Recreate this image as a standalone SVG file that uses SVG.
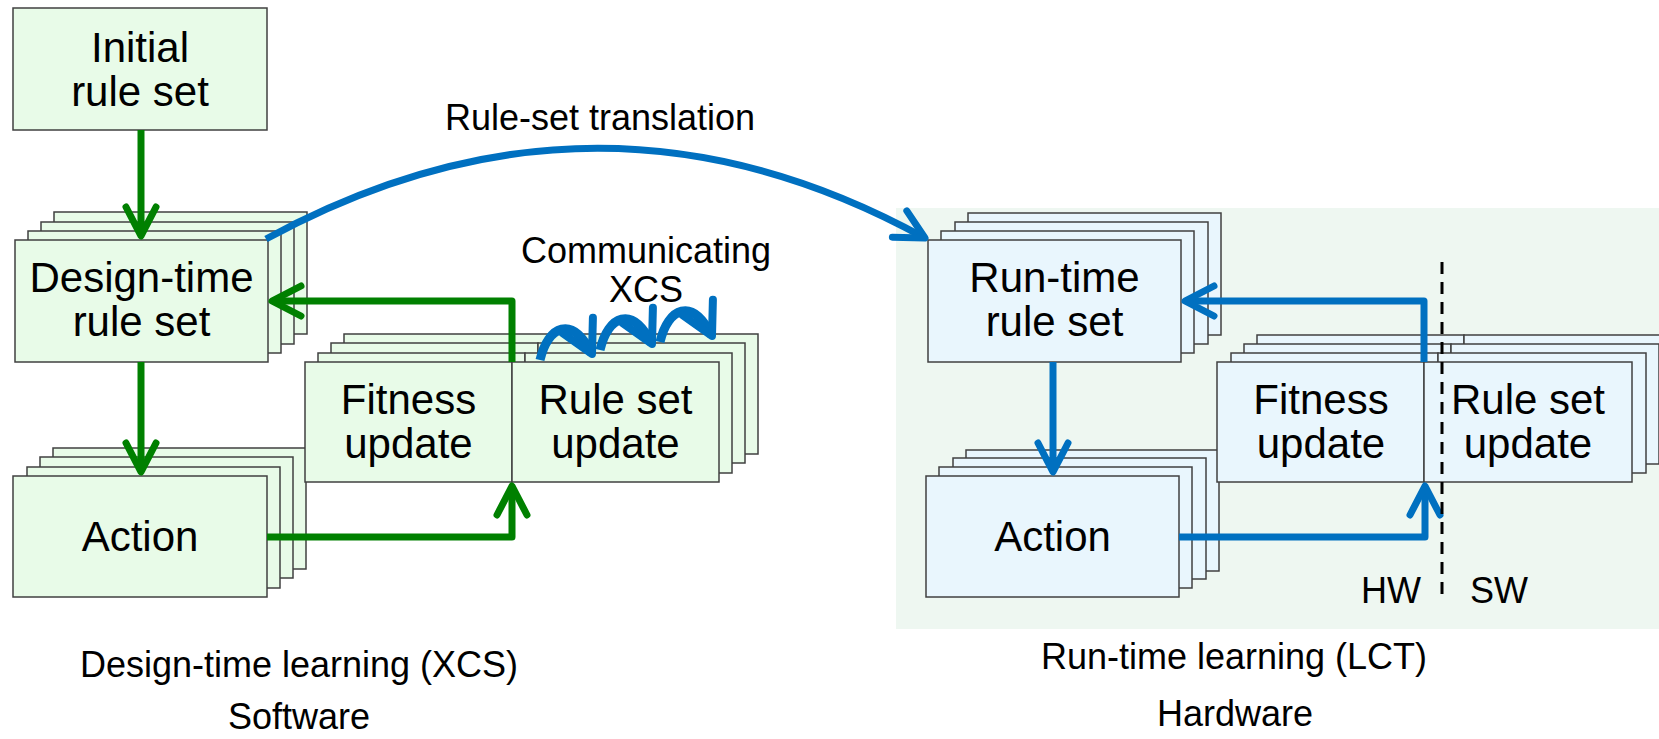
<svg xmlns="http://www.w3.org/2000/svg" width="1659" height="739" viewBox="0 0 1659 739">
<style>
.g rect{fill:#e8fbe8;stroke:#404040;stroke-width:1.5}
.b rect{fill:#e9f6fd;stroke:#404040;stroke-width:1.5}
text{font-family:"Liberation Sans",Arial,sans-serif;fill:#000;text-anchor:middle}
.t{font-size:42px}
.m{font-size:36px}
.cg{fill:none;stroke:#008000;stroke-width:7;stroke-linejoin:round;marker-end:url(#ag)}
.cb{fill:none;stroke:#0070c0;stroke-width:7;stroke-linejoin:round;marker-end:url(#ab)}
.hb{fill:none;stroke:#0070c0;stroke-width:9;marker-end:url(#ah)}
</style>
<defs>
<marker id="ag" markerUnits="userSpaceOnUse" viewBox="-40 -25 50 50" refX="0" refY="0" markerWidth="50" markerHeight="50" orient="auto" overflow="visible">
<path d="M-29,-15 L0,0 L-29,15" fill="none" stroke="#008000" stroke-width="7" stroke-linecap="round" stroke-linejoin="round"/>
</marker>
<marker id="ab" markerUnits="userSpaceOnUse" viewBox="-40 -25 50 50" refX="0" refY="0" markerWidth="50" markerHeight="50" orient="auto" overflow="visible">
<path d="M-29,-15 L0,0 L-29,15" fill="none" stroke="#0070c0" stroke-width="7" stroke-linecap="round" stroke-linejoin="round"/>
</marker>
<marker id="ah" markerUnits="userSpaceOnUse" viewBox="-40 -25 50 50" refX="0" refY="0" markerWidth="50" markerHeight="50" orient="auto" overflow="visible">
<path d="M-32,-17 L0,0 L-32,17" fill="none" stroke="#0070c0" stroke-width="8" stroke-linecap="round" stroke-linejoin="round"/>
</marker>
</defs>
<rect id="hw-region" x="896" y="208" width="763" height="421" fill="#eef7f1"/>

<g id="initial" class="g">
<rect x="13" y="8" width="254" height="122"/>
<text class="t" x="140" y="62">Initial</text>
<text class="t" x="140" y="106">rule set</text>
</g>

<g id="design-time" class="g">
<rect x="54" y="212" width="253" height="122"/>
<rect x="41" y="222" width="253" height="122"/>
<rect x="28" y="231" width="253" height="122"/>
<rect x="15" y="240" width="253" height="122"/>
<text class="t" x="141.5" y="292">Design-time</text>
<text class="t" x="141.5" y="336">rule set</text>
</g>

<g id="action-sw" class="g">
<rect x="53" y="448" width="253" height="121"/>
<rect x="40" y="457" width="253" height="121"/>
<rect x="27" y="467" width="253" height="121"/>
<rect x="13" y="476" width="254" height="121"/>
<text class="t" x="140" y="551">Action</text>
</g>

<g id="update-sw" class="g">
<rect x="344" y="334" width="207" height="120"/><rect x="551" y="334" width="207" height="120"/>
<rect x="331" y="343" width="207" height="120"/><rect x="538" y="343" width="207" height="120"/>
<rect x="318" y="353" width="207" height="120"/><rect x="525" y="353" width="207" height="120"/>
<rect x="305" y="362" width="207" height="120"/><rect x="512" y="362" width="207" height="120"/>
<text class="t" x="408.5" y="414">Fitness</text>
<text class="t" x="408.5" y="458">update</text>
<text class="t" x="615.5" y="414">Rule set</text>
<text class="t" x="615.5" y="458">update</text>
</g>

<g id="run-time" class="b">
<rect x="968" y="213" width="253" height="122"/>
<rect x="955" y="222" width="253" height="122"/>
<rect x="941" y="231" width="253" height="122"/>
<rect x="928" y="240" width="253" height="122"/>
<text class="t" x="1054.5" y="292">Run-time</text>
<text class="t" x="1054.5" y="336">rule set</text>
</g>

<g id="action-hw" class="b">
<rect x="966" y="450" width="253" height="121"/>
<rect x="953" y="458" width="253" height="121"/>
<rect x="939" y="467" width="253" height="121"/>
<rect x="926" y="476" width="253" height="121"/>
<text class="t" x="1052.5" y="551">Action</text>
</g>

<g id="update-hw" class="b">
<rect x="1257" y="335" width="207" height="120"/><rect x="1464" y="335" width="208" height="120"/>
<rect x="1244" y="344" width="207" height="120"/><rect x="1451" y="344" width="208" height="120"/>
<rect x="1231" y="353" width="207" height="120"/><rect x="1438" y="353" width="208" height="120"/>
<rect x="1217" y="362" width="207" height="120"/><rect x="1424" y="362" width="208" height="120"/>
<text class="t" x="1321" y="414">Fitness</text>
<text class="t" x="1321" y="458">update</text>
<text class="t" x="1528" y="414">Rule set</text>
<text class="t" x="1528" y="458">update</text>
</g>

<g id="connectors">
<path class="cg" d="M141,130 V236"/>
<path class="cg" d="M141,362 V472"/>
<path class="cg" d="M267,537 H512 V486"/>
<path class="cg" d="M512,362 V301 H272"/>
<path class="cb" d="M266,239 Q598,58 925,238"/>
<path class="cb" d="M1053,362 V472"/>
<path class="cb" d="M1179,537 H1425 V486"/>
<path class="cb" d="M1424,362 V301 H1185"/>
<path class="hb" d="M540,360 C548,326 572,314 592,354"/>
<path class="hb" d="M600,350 C608,316 632,304 652,344"/>
<path class="hb" d="M660,342 C668,308 692,296 712,336"/>
<path d="M1442,262 V602" fill="none" stroke="#000" stroke-width="3" stroke-dasharray="12 8"/>
</g>

<g id="labels">
<text class="m" x="600" y="130">Rule-set translation</text>
<text class="m" x="646" y="263">Communicating</text>
<text class="m" x="646" y="302">XCS</text>
<text class="m" x="1391" y="603">HW</text>
<text class="m" x="1499" y="603">SW</text>
<text class="m" x="299" y="677">Design-time learning (XCS)</text>
<text class="m" x="299" y="729">Software</text>
<text class="m" x="1234" y="669">Run-time learning (LCT)</text>
<text class="m" x="1235" y="726">Hardware</text>
</g>
</svg>
